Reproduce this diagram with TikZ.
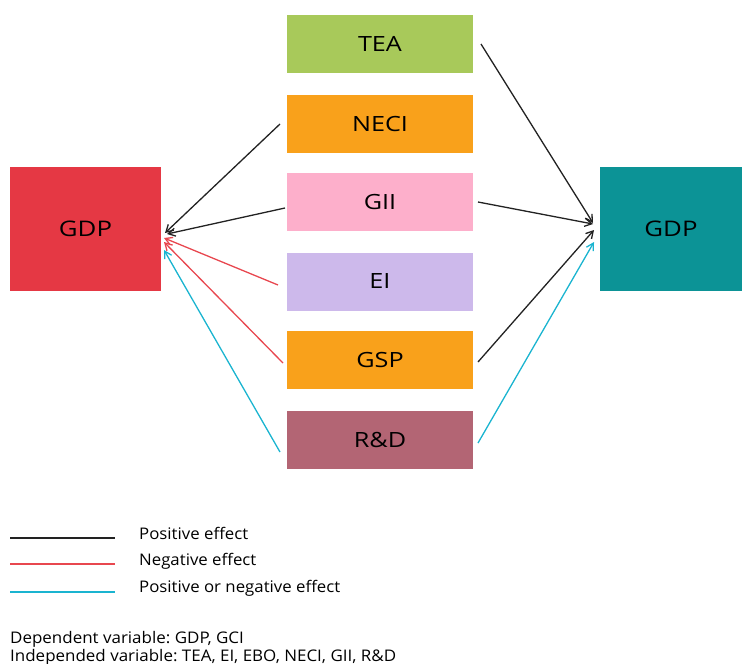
\documentclass[tikz,border=0pt]{standalone}
\usepackage{fontspec}
\setmainfont{Open Sans}
\newfontfamily\boxfont[FakeStretch=1.2]{Open Sans}
\newfontfamily\legfont[FakeStretch=1.05]{Open Sans}
\newfontfamily\notefont[FakeStretch=1.06]{Open Sans}
\frenchspacing
\usetikzlibrary{arrows.meta}
\definecolor{cTEA}{HTML}{A8C95A}
\definecolor{cOR}{HTML}{F9A11B}
\definecolor{cGII}{HTML}{FDAFCB}
\definecolor{cEI}{HTML}{CDB9EB}
\definecolor{cRD}{HTML}{B36574}
\definecolor{cGDPL}{HTML}{E53844}
\definecolor{cGDPR}{HTML}{0C9396}
\definecolor{cNeg}{HTML}{E8474F}
\definecolor{cAmb}{HTML}{1AB4D0}
\definecolor{cPos}{HTML}{222222}
\begin{document}
\begin{tikzpicture}[x=1pt,y=-1pt,
  box/.style={draw=none,minimum width=186pt,minimum height=58pt,inner sep=0pt,font=\boxfont\fontsize{21}{24}\selectfont},
  bigbox/.style={draw=none,minimum height=124pt,inner sep=0pt,font=\boxfont\fontsize{21.5}{24}\selectfont},
  posarrow/.style={draw=cPos,line width=1.3pt,-{Straight Barb[length=7pt,width=8pt]}},
  negarrow/.style={draw=cNeg,line width=1.3pt,-{Straight Barb[length=7pt,width=8pt]}},
  ambarrow/.style={draw=cAmb,line width=1.3pt,-{Straight Barb[length=7pt,width=8pt]}},
  legtext/.style={font=\legfont\fontsize{16}{18}\selectfont,anchor=base west,inner sep=0pt},
  notetext/.style={font=\notefont\fontsize{16}{18}\selectfont,anchor=base west,inner sep=0pt}]
\useasboundingbox (0,0) rectangle (742,664);
\node[box,fill=cTEA] (tea) at (380,44) {TEA};
\node[box,fill=cOR] (neci) at (380,123.5) {NECI};
\node[box,fill=cGII] (gii) at (380,202) {GII};
\node[box,fill=cEI] (ei) at (380,281.5) {EI};
\node[box,fill=cOR] (gsp) at (380,360) {GSP};
\node[box,fill=cRD] (rd) at (380,439.5) {R\&D};
\node[bigbox,fill=cGDPL,minimum width=151pt] (gdpl) at (85.5,228.5) {GDP};
\node[bigbox,fill=cGDPR,minimum width=142pt] (gdpr) at (671,228.5) {GDP};
% left arrow ends
\coordinate (sNECI) at (280,124);
\coordinate (sGIIl) at (285,208);
\coordinate (sEI) at (278,285);
\coordinate (sGSPl) at (283,363);
\coordinate (sRDl) at (280,452);
\coordinate (eNECI) at (165,233);
\coordinate (eGIIl) at (167,234);
\coordinate (eEI) at (164,238);
\coordinate (eGSPl) at (164,242);
\coordinate (eRDl) at (164,250);
\draw[posarrow] (sNECI) -- (eNECI);
\draw[posarrow] (sGIIl) -- (eGIIl);
\draw[negarrow] (sEI) -- (eEI);
\draw[negarrow] (sGSPl) -- (eGSPl);
\draw[ambarrow] (sRDl) -- (eRDl);
% right arrows
\coordinate (sTEA) at (481,44);
\coordinate (sGIIr) at (478,202);
\coordinate (sGSPr) at (478,362);
\coordinate (sRDr) at (478,443);
\coordinate (eTEA) at (593,223);
\coordinate (eGIIr) at (593,224);
\coordinate (eGSPr) at (594,230);
\coordinate (eRDr) at (594,242);
\draw[posarrow] (sTEA) -- (eTEA);
\draw[posarrow] (sGIIr) -- (eGIIr);
\draw[posarrow] (sGSPr) -- (eGSPr);
\draw[ambarrow] (sRDr) -- (eRDr);
% legend
\coordinate (l1a) at (10,538); \coordinate (l1b) at (115,538);
\coordinate (l2a) at (10,564); \coordinate (l2b) at (115,564);
\coordinate (l3a) at (10,592); \coordinate (l3b) at (115,592);
\draw[cPos,line width=1.2pt] (l1a) -- (l1b);
\draw[cNeg,line width=1.2pt] (l2a) -- (l2b);
\draw[cAmb,line width=1.2pt] (l3a) -- (l3b);
\node[legtext] (t1) at (139,539) {Positive effect};
\node[legtext] (t2) at (139,565) {Negative effect};
\node[legtext] (t3) at (139,592) {Positive or negative effect};
\node[notetext] (n1) at (10,643) {Dependent variable: GDP, GCI};
\node[notetext] (n2) at (10,661) {Independed variable: TEA, EI, EBO, NECI, GII, R\&D};
\end{tikzpicture}
\end{document}
